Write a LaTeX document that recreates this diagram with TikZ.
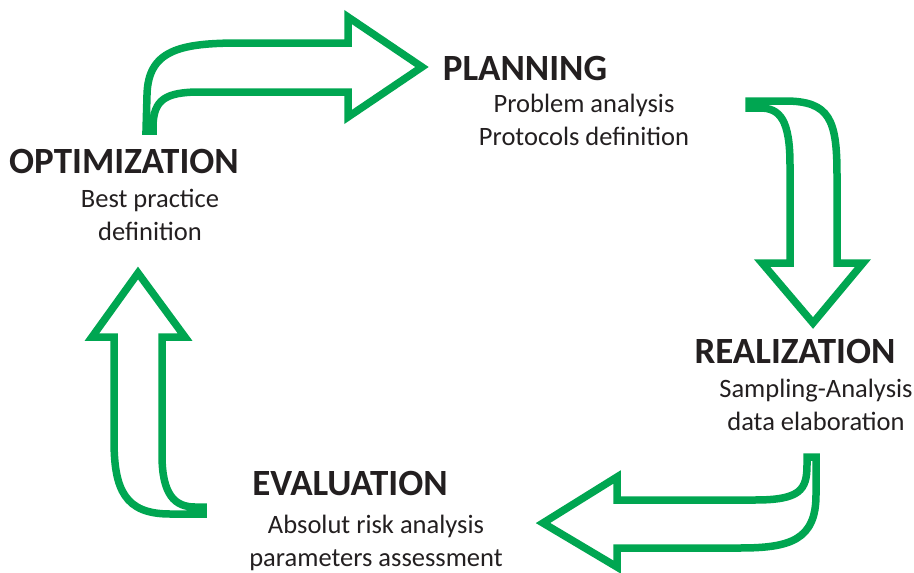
\documentclass[tikz,border=0pt]{standalone}
\usepackage{fontspec}
\setmainfont{Carlito}
\usepackage{tikz}
\usepackage{xcolor}
\usetikzlibrary{positioning}

\definecolor{cyclegreen}{RGB}{0,166,81}
\definecolor{cycletext}{RGB}{35,31,32}

\begin{document}
\begin{tikzpicture}[x=1pt, y=-1pt,
  cyclearrow/.style={draw=cyclegreen, line width=7.5pt, fill=white, line join=miter},
  phase/.style={font=\fontsize{37}{44}\selectfont\bfseries, text=cycletext, inner sep=0pt, anchor=base},
  detail/.style={font=\fontsize{26.5}{33}\selectfont, text=cycletext, inner sep=0pt, align=center, anchor=base}]
\useasboundingbox (0,0) rectangle (914,573);

\draw[cyclearrow] (146,131) -- (147,95) .. controls (148,50) and (180,43) .. (240,43) -- (348,43) -- (348,17)
  -- (422,67) -- (348,117) -- (348,92) -- (200,92) .. controls (165,92) and (154,100) .. (153,125) -- (153,131) -- cycle;
\draw[cyclearrow] (749,101) -- (785,101) .. controls (830,101) and (837,120) .. (837,175) -- (837,263) -- (863,263)
  -- (813,323) -- (762,263) -- (790,263) -- (790,165) .. controls (790,120) and (780,108) .. (760,108) -- (749,108) -- cycle;
\draw[cyclearrow] (816,457) -- (816,495) .. controls (816,540) and (790,548) .. (740,548) -- (617,548) -- (617,567)
  -- (543,523) -- (617,477) -- (617,500) -- (755,500) .. controls (800,500) and (807,490) .. (807,465) -- (807,457) -- cycle;
\draw[cyclearrow] (203,514) -- (170,514) .. controls (125,514) and (114,490) .. (114,440) -- (114,337) -- (92,337)
  -- (138,273) -- (185,337) -- (162,337) -- (162,455) .. controls (162,495) and (175,507) .. (195,507) -- (203,507) -- cycle;

\node[phase] (plan) at (525,80) {PLANNING};
\node[detail] (plantext) at (584,145) {Problem analysis\\Protocols definition};
\node[phase] (real) at (795,363) {REALIZATION};
\node[detail] (realtext) at (816,430) {Sampling-Analysis\\data elaboration};
\node[phase] (eval) at (350,495) {EVALUATION};
\node[detail] (evaltext) at (376,566) {Absolut risk analysis\\parameters assessment};
\node[phase] (opt) at (124,173) {OPTIMIZATION};
\node[detail] (opttext) at (150,240) {Best practice\\definition};
\end{tikzpicture}
\end{document}
